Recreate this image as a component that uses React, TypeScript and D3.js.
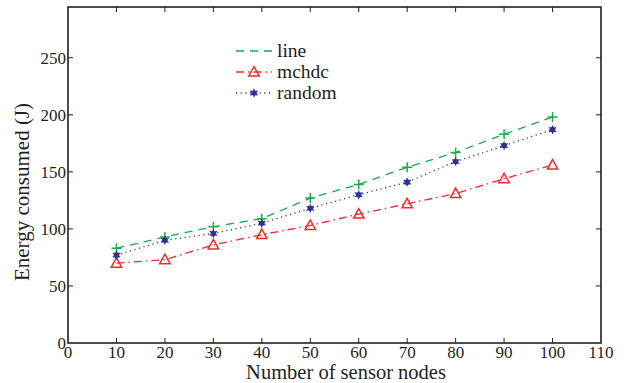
import { useEffect, useRef } from "react";
import * as d3 from "d3";

// data
const nodes = [10, 20, 30, 40, 50, 60, 70, 80, 90, 100];
const lineVals = [83, 93, 102, 109, 127, 139, 154, 167, 183, 198];
const mchdcVals = [70, 73, 86, 95, 103, 113, 122, 131, 144, 156];
const randomVals = [77, 90, 96, 105, 118, 130, 141, 159, 173, 187];
const xTicks = [0, 10, 20, 30, 40, 50, 60, 70, 80, 90, 100, 110];
const yTicks = [0, 50, 100, 150, 200, 250];

const FONT = "'Liberation Serif', 'Times New Roman', serif";

export default function App() {
  const ref = useRef<SVGSVGElement>(null);

  useEffect(() => {
    const svg = d3.select(ref.current);
    svg.selectAll("*").remove();

    const left = 68, right = 601, top = 7, bottom = 343;
    const x = d3.scaleLinear().domain([0, 110]).range([left, right]);
    const y = d3.scaleLinear().domain([0, 294.5]).range([bottom, top]);

    // box
    svg.append("rect")
      .attr("x", left).attr("y", top)
      .attr("width", right - left).attr("height", bottom - top)
      .attr("fill", "none").attr("stroke", "#231f20").attr("stroke-width", 1.6);

    // ticks inward on every side
    const tl = 5;
    xTicks.slice(1, -1).forEach((t) => {
      svg.append("line").attr("x1", x(t)).attr("x2", x(t)).attr("y1", bottom).attr("y2", bottom - tl)
        .attr("stroke", "#231f20").attr("stroke-width", 1);
      svg.append("line").attr("x1", x(t)).attr("x2", x(t)).attr("y1", top).attr("y2", top + tl)
        .attr("stroke", "#231f20").attr("stroke-width", 1);
    });
    yTicks.slice(1).forEach((t) => {
      svg.append("line").attr("x1", left).attr("x2", left + tl).attr("y1", y(t)).attr("y2", y(t))
        .attr("stroke", "#231f20").attr("stroke-width", 1);
      svg.append("line").attr("x1", right).attr("x2", right - tl).attr("y1", y(t)).attr("y2", y(t))
        .attr("stroke", "#231f20").attr("stroke-width", 1);
    });

    // tick labels
    svg.append("g").selectAll("text").data(xTicks).enter().append("text")
      .attr("x", (d) => x(d)).attr("y", bottom + 15)
      .attr("text-anchor", "middle")
      .style("font-family", FONT).style("font-size", "17px").style("fill", "#231f20")
      .text((d) => d);
    svg.append("g").selectAll("text").data(yTicks).enter().append("text")
      .attr("x", left - 2).attr("y", (d) => y(d) + 6)
      .attr("text-anchor", "end")
      .style("font-family", FONT).style("font-size", "17px").style("fill", "#231f20")
      .text((d) => d);

    // axis titles
    svg.append("text")
      .attr("x", 346).attr("y", 379)
      .attr("text-anchor", "middle")
      .style("font-family", FONT).style("font-size", "20.5px").style("fill", "#231f20")
      .text("Number of sensor nodes");
    svg.append("text")
      .attr("transform", `translate(29,192) rotate(-90)`)
      .attr("text-anchor", "middle")
      .style("font-family", FONT).style("font-size", "21px").style("fill", "#231f20")
      .text("Energy consumed (J)");

    const series = [
      { name: "line", vals: lineVals, color: "#1ba84e", dash: "8,6", sym: "plus" },
      { name: "mchdc", vals: mchdcVals, color: "#ef2b2d", dash: "8,4,1.5,4", sym: "tri" },
      { name: "random", vals: randomVals, color: "#2e3192", dash: "1.2,3.5", sym: "star" },
    ];

    const drawMarker = (g: any, sym: string, cx: number, cy: number, color: string) => {
      if (sym === "plus") {
        g.append("path").attr("d", `M${cx - 5},${cy}H${cx + 5}M${cx},${cy - 5}V${cy + 5}`)
          .attr("stroke", color).attr("stroke-width", 1.5).attr("fill", "none");
      } else if (sym === "tri") {
        g.append("path").attr("d", `M${cx},${cy - 5.5}L${cx + 5.2},${cy + 4}L${cx - 5.2},${cy + 4}Z`)
          .attr("stroke", color).attr("stroke-width", 1.5).attr("fill", "none");
      } else {
        g.append("circle").attr("cx", cx).attr("cy", cy).attr("r", 2.8).attr("fill", color);
        g.append("path").attr("d", d3.symbol(d3.symbolAsterisk, 50)()!)
          .attr("transform", `translate(${cx},${cy})`)
          .attr("stroke", color).attr("stroke-width", 1.2).attr("fill", "none");
      }
    };

    const line = d3.line<number>().x((_, i) => x(nodes[i])).y((d) => y(d));

    series.forEach((s) => {
      svg.append("path").datum(s.vals).attr("d", line)
        .attr("fill", "none").attr("stroke", s.color).attr("stroke-width", 1.3)
        .attr("stroke-dasharray", s.dash);
      const g = svg.append("g");
      s.vals.forEach((v, i) => drawMarker(g, s.sym, x(nodes[i]), y(v), s.color));
    });

    // legend
    series.forEach((s, i) => {
      const ly = 51 + i * 21;
      svg.append("line").attr("x1", 236).attr("x2", 272).attr("y1", ly).attr("y2", ly)
        .attr("stroke", s.color).attr("stroke-width", 1.3).attr("stroke-dasharray", s.dash);
      if (s.sym !== "plus") drawMarker(svg.append("g"), s.sym, 254, ly, s.color);
      svg.append("text").attr("x", 277).attr("y", ly + 6)
        .style("font-family", FONT).style("font-size", "19.5px").style("fill", "#231f20")
        .text(s.name);
    });
  }, []);

  return (
    <svg
      ref={ref}
      width={624}
      height={383}
      style={{ position: "absolute", left: 0, top: 0, display: "block" }}
    />
  );
}
